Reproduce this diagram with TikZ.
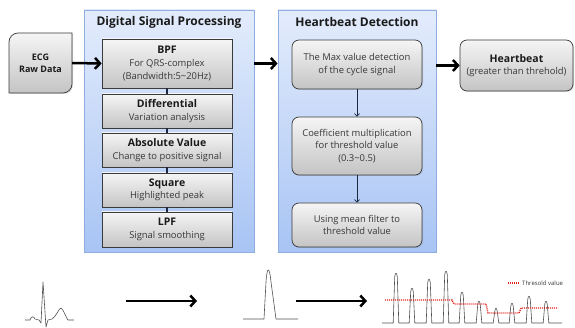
\documentclass[tikz,border=0pt]{standalone}
\usepackage{fontspec}
\setmainfont{Open Sans}
\usetikzlibrary{arrows.meta,shadows}

\definecolor{boxtop}{HTML}{F5F5F5}
\definecolor{boxbot}{HTML}{C4C4C4}
\definecolor{boxline}{HTML}{3A3A3A}
\definecolor{paneltop}{HTML}{E3ECFC}
\definecolor{panelbot}{HTML}{A8C4F4}
\definecolor{panelline}{HTML}{8EAEE2}
\definecolor{linkcol}{HTML}{1C2740}
\definecolor{wave}{HTML}{505050}
\definecolor{thr}{HTML}{E0201B}
\definecolor{txt}{HTML}{1A1A1A}
\definecolor{subtxt}{HTML}{383838}

\newcommand{\boxhead}[1]{{\fontsize{10.5}{12}\selectfont\bfseries\color{txt}#1}}

\tikzset{
  panel/.style={draw=panelline, line width=0.8pt, top color=paneltop,
    bottom color=panelbot, inner sep=0pt,
    drop shadow={opacity=0.18, shadow xshift=1pt, shadow yshift=-1.2pt}},
  paneltitle/.style={font=\fontsize{12}{14}\selectfont\bfseries, text=txt, inner sep=0pt},
  procbox/.style={draw=boxline, line width=0.7pt, top color=boxtop,
    bottom color=boxbot, inner sep=0pt, align=center, text=subtxt,
    minimum width=130pt,
    font=\fontsize{9.4}{12.5}\selectfont,
    drop shadow={opacity=0.25, shadow xshift=1pt, shadow yshift=-1pt}},
  roundbox/.style={procbox, rounded corners=7pt},
  bigarrow/.style={line width=2.5pt, -{Straight Barb[length=5pt,width=11pt]}},
  smallarrow/.style={line width=0.8pt, draw=linkcol, -{Straight Barb[length=2.5pt,width=5pt]}},
  chain/.style={line width=2pt, draw=linkcol},
  wave/.style={draw=wave, line width=0.6pt, line join=round},
  thrline/.style={draw=thr, line width=1.4pt, dash pattern=on 1pt off 1pt},
}

\begin{document}
\begin{tikzpicture}[x=1pt,y=-1pt]
  \useasboundingbox (0,0) rectangle (575,328);

  % ---- Panels ----
  \node[panel, minimum width=170pt, minimum height=242pt] (dsp) at (169,131) {};
  \node[paneltitle] (dsptitle) at (169,22) {Digital Signal Processing};
  \node[panel, minimum width=158pt, minimum height=242pt] (det) at (357,131) {};
  \node[paneltitle] (dettitle) at (357,22) {Heartbeat Detection};

  % ---- ECG input box (two rounded corners) ----
  \path[draw=boxline, line width=0.7pt, top color=boxtop, bottom color=boxbot,
        drop shadow={opacity=0.25, shadow xshift=1pt, shadow yshift=-1pt}]
    (9,93) -- (9,42) .. controls (9,37) and (13,33) .. (18,33) -- (72,33)
    -- (72,84) .. controls (72,89) and (68,93) .. (63,93) -- cycle;
  \node[inner sep=0pt, minimum width=63pt, minimum height=60pt, align=center,
        font=\fontsize{9}{12}\selectfont\bfseries, text=txt] (ecg) at (40.5,63)
    {ECG\\Raw Data};

  % ---- DSP chain ----
  \node[procbox, minimum height=49pt] (bpf) at (167,63.5)
    {\boxhead{BPF}\\For QRS-complex\\(Bandwidth:5\textasciitilde 20Hz)};
  \node[procbox, minimum height=34pt] (diff) at (167,111)
    {\boxhead{Differential}\\Variation analysis};
  \node[procbox, minimum height=34pt] (abs) at (167,150)
    {\boxhead{Absolute Value}\\Change to positive signal};
  \node[procbox, minimum height=34pt] (sq) at (167,190)
    {\boxhead{Square}\\Highlighted peak};
  \node[procbox, minimum height=35pt] (lpf) at (167,229.5)
    {\boxhead{LPF}\\Signal smoothing};

  \draw[chain] (bpf.south) -- (diff.north);
  \draw[chain] (diff.south) -- (abs.north);
  \draw[chain] (abs.south) -- (sq.north);
  \draw[chain] (sq.south) -- (lpf.north);

  % ---- Detection chain ----
  \node[roundbox, minimum height=49pt] (maxv) at (357,64.5)
    {The Max value detection\\of the cycle signal};
  \node[roundbox, minimum height=58pt] (coef) at (357,146)
    {Coefficient multiplication\\for threshold value\\(0.3\textasciitilde 0.5)};
  \node[roundbox, minimum height=44pt] (mean) at (357,225)
    {Using mean filter to\\threshold value};

  \draw[smallarrow] (maxv.south) -- (coef.north);
  \draw[smallarrow] (coef.south) -- (mean.north);

  % ---- Output box ----
  \node[roundbox, minimum width=113pt, minimum height=51pt] (beat) at (516.5,65.5)
    {\boxhead{Heartbeat}\\(greater than threhold)};

  % ---- Main flow arrows ----
  \draw[bigarrow] (ecg.east) -- (bpf.west);
  \draw[bigarrow] (dsp.east |- bpf.west) -- (det.west |- bpf.west);
  \draw[bigarrow] (det.east |- beat.west) -- (beat.west);

  % ---- Raw ECG sketch ----
  \draw[wave] (25,320) -- (30,320) .. controls (31,316) and (34,316) .. (35,319)
    -- (39,320) -- (41,323) -- (43,282) -- (46,327) -- (48,320) -- (52,319)
    .. controls (56,317) and (59,308) .. (61,308) .. controls (63,308) and (66,318) .. (68,320)
    -- (74,320);

  \coordinate (a1s) at (126,301);
  \coordinate (a1e) at (197,301);
  \draw[bigarrow] (a1s) -- (a1e);

  % ---- Single smoothed peak ----
  \draw[wave] (243,319) -- (264,319) -- (266,282) .. controls (267,266) and (269.5,266) .. (271,282)
    -- (276,319) -- (298,319);

  \coordinate (a2s) at (296,301);
  \coordinate (a2e) at (367,301);
  \draw[bigarrow] (a2s) -- (a2e);

  % ---- Peak train with adaptive threshold ----
  \draw[wave] (382,323)
    \foreach \px/\py in {396/272,412/287,429/278,446/270,462/291,479/300,496/307,512/302,529/295,546/300}{
      -- (\px-2.8,323) -- (\px-1.3,\py+5) .. controls (\px-0.9,\py) and (\px+0.9,\py) .. (\px+1.3,\py+5) -- (\px+2.8,323)
    } -- (562,323);

  \draw[thrline] (385,300) -- (452,300) -- (454,304) -- (486,304) -- (488,313)
    -- (519,313) -- (521,308) -- (558,308);

  % legend
  \coordinate (lg1) at (508,283);
  \coordinate (lg2) at (520,283);
  \draw[thrline] (lg1) -- (lg2);
  \node[anchor=west, inner sep=0pt, font=\fontsize{6}{7}\selectfont, text=subtxt] (lgtext) at (522,283) {Thresold value};
\end{tikzpicture}
\end{document}
